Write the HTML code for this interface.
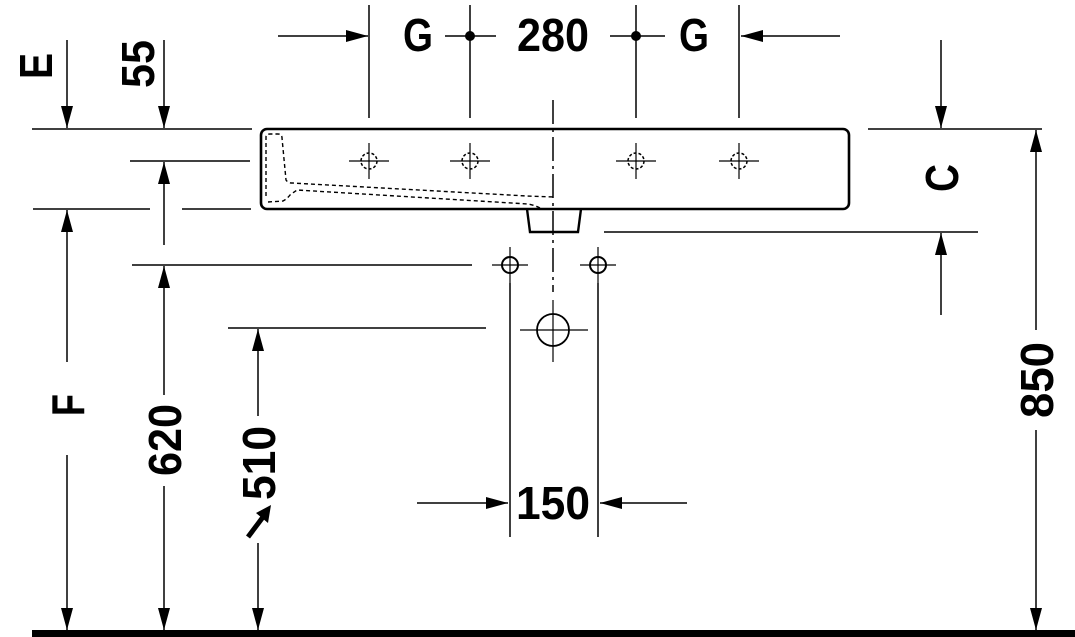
<!DOCTYPE html>
<html><head><meta charset="utf-8"><style>
html,body{margin:0;padding:0;background:#fff;width:1075px;height:637px;overflow:hidden}
text{font-family:"Liberation Sans",sans-serif;font-weight:bold;fill:#000}
</style></head><body>
<svg width="1075" height="637" viewBox="0 0 1075 637" xmlns="http://www.w3.org/2000/svg">
<defs>
<marker id="a" markerWidth="22" markerHeight="12" refX="22" refY="6" orient="auto" markerUnits="userSpaceOnUse">
<path d="M0,0 L22,6 L0,12 Z" fill="#000"/></marker>
</defs>
<g stroke="#000" stroke-width="1.5" fill="none">
<line x1="278" y1="36" x2="368" y2="36" marker-end="url(#a)"/>
<line x1="840" y1="36" x2="741" y2="36" marker-end="url(#a)"/>
<line x1="369" y1="5" x2="369" y2="118"/>
<line x1="470" y1="5" x2="470" y2="118"/>
<line x1="636" y1="5" x2="636" y2="118"/>
<line x1="739" y1="5" x2="739" y2="118"/>
<line x1="445" y1="36" x2="496" y2="36"/>
<line x1="610" y1="36" x2="665" y2="36"/>
<line x1="32" y1="129" x2="252" y2="129"/>
<line x1="67" y1="40" x2="67" y2="128" marker-end="url(#a)"/>
<line x1="164" y1="40" x2="164" y2="128" marker-end="url(#a)"/>
<line x1="130" y1="161" x2="250" y2="161"/>
<line x1="164" y1="245" x2="164" y2="162" marker-end="url(#a)"/>
<line x1="33" y1="209" x2="150" y2="209"/>
<line x1="182" y1="209" x2="251" y2="209"/>
<line x1="67" y1="362" x2="67" y2="210" marker-end="url(#a)"/>
<line x1="67" y1="455" x2="67" y2="630" marker-end="url(#a)"/>
<line x1="132" y1="265" x2="472" y2="265"/>
<line x1="164" y1="395" x2="164" y2="266" marker-end="url(#a)"/>
<line x1="164" y1="486" x2="164" y2="630" marker-end="url(#a)"/>
<line x1="228" y1="328" x2="486" y2="328"/>
<line x1="258" y1="416" x2="258" y2="329" marker-end="url(#a)"/>
<line x1="258" y1="543" x2="258" y2="630" marker-end="url(#a)"/>
<line x1="868" y1="129" x2="1042" y2="129"/>
<line x1="941" y1="40" x2="941" y2="128" marker-end="url(#a)"/>
<line x1="604" y1="232" x2="978" y2="232"/>
<line x1="941" y1="315" x2="941" y2="233" marker-end="url(#a)"/>
<line x1="1036" y1="330" x2="1036" y2="130" marker-end="url(#a)"/>
<line x1="1036" y1="430" x2="1036" y2="630" marker-end="url(#a)"/>
<line x1="510" y1="283" x2="510" y2="537"/>
<line x1="598" y1="283" x2="598" y2="537"/>
<line x1="417" y1="503" x2="508" y2="503" marker-end="url(#a)"/>
<line x1="687" y1="503" x2="600" y2="503" marker-end="url(#a)"/>
<line x1="553" y1="100" x2="553" y2="292" stroke-dasharray="24,5,3,5"/>
<g stroke-width="1.2">
<path d="M349,161h40M369,143v36M450,161h40M470,143v36M616,161h40M636,143v36M719,161h40M739,143v36"/>
<g stroke-dasharray="3,2" stroke-width="1.5"><circle cx="369" cy="161" r="8"/><circle cx="470" cy="161" r="8"/><circle cx="636" cy="161" r="8"/><circle cx="739" cy="161" r="8"/></g>
<path d="M492,265h36M510,247v36M580,265h36M598,247v36M520,330h68M553,300v62"/>
</g>
<circle cx="510" cy="265" r="8" stroke-width="2"/>
<circle cx="598" cy="265" r="8" stroke-width="2"/>
<circle cx="553" cy="330" r="16" stroke-width="1.8"/>
<rect x="261" y="129" width="588" height="80" rx="6" stroke-width="2.6"/>
<path d="M527,209 L530,232 L578,232 L581,209" stroke-width="2.4"/>
<g stroke-width="1.4" stroke-dasharray="4,3">
<path d="M266,196 L266,137 Q266,134 270,134 L278,134 Q282,134 282,138 L286,180 Q288,183 292,183 L527,196 L553,197"/>
<path d="M268,202 L283,201 Q287,199 290,195 L297,190 L528,204 Q534,205 540,208"/>
</g>
<line x1="248" y1="537" x2="263" y2="517" stroke-width="5"/>
</g>
<circle cx="470" cy="36" r="5" fill="#000"/>
<circle cx="636" cy="36" r="5" fill="#000"/>
<polygon points="271,505 256,513 268,523" fill="#000"/>
<rect x="32" y="630" width="1043" height="7" fill="#000"/>
<g font-size="46">
<text x="418" y="51" text-anchor="middle" textLength="30" lengthAdjust="spacingAndGlyphs">G</text>
<text x="553" y="51" text-anchor="middle" textLength="72" lengthAdjust="spacingAndGlyphs">280</text>
<text x="694" y="51" text-anchor="middle" textLength="30" lengthAdjust="spacingAndGlyphs">G</text>
<text x="553" y="519" text-anchor="middle" textLength="74" lengthAdjust="spacingAndGlyphs">150</text>
<text transform="translate(52,66) rotate(-90)" text-anchor="middle" textLength="26" lengthAdjust="spacingAndGlyphs">E</text>
<text transform="translate(154,64) rotate(-90)" text-anchor="middle" textLength="48" lengthAdjust="spacingAndGlyphs">55</text>
<text transform="translate(84,405) rotate(-90)" text-anchor="middle" textLength="22" lengthAdjust="spacingAndGlyphs">F</text>
<text transform="translate(181,440) rotate(-90)" text-anchor="middle" textLength="72" lengthAdjust="spacingAndGlyphs">620</text>
<text transform="translate(275,463) rotate(-90)" text-anchor="middle" textLength="74" lengthAdjust="spacingAndGlyphs">510</text>
<text transform="translate(1053,380) rotate(-90)" text-anchor="middle" textLength="76" lengthAdjust="spacingAndGlyphs">850</text>
<text transform="translate(958,178) rotate(-90)" text-anchor="middle" textLength="28" lengthAdjust="spacingAndGlyphs">C</text>
</g>
</svg>
</body></html>
